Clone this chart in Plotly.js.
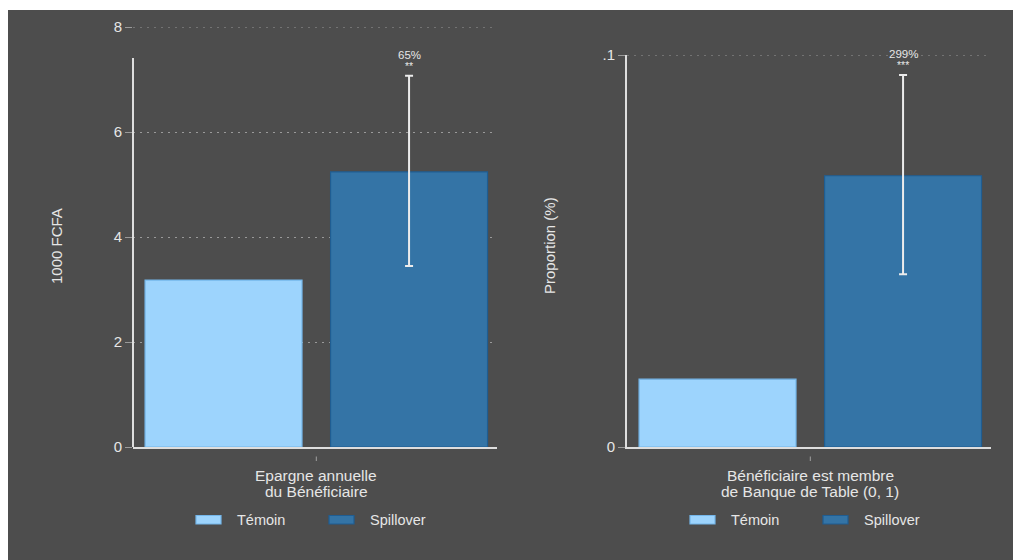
<!DOCTYPE html>
<html>
<head>
<meta charset="utf-8">
<script src="https://cdn.plot.ly/plotly-3.0.1.min.js"></script>
<style>
  html, body { margin: 0; padding: 0; background: #ffffff; }
  #chart { position: absolute; left: 8px; top: 10px; width: 1005px; height: 550px; }
</style>
</head>
<body>
<div id="chart"></div>
<script>
// Groups compared in each panel
const groups = ['Témoin', 'Spillover'];

// Panel 1: annual savings of the beneficiary (1000 FCFA)
const savingsMean = [3.18, 5.24];
const savingsLow = [null, 3.45];
const savingsHigh = [null, 7.07];
const savingsTicks = [0, 2, 4, 6, 8];
const savingsTickText = ['0', '2', '4', '6', '8'];

// Panel 2: share of beneficiaries who are members of a Banque de Table
const memberMean = [0.0173, 0.0692];
const memberLow = [null, 0.0441];
const memberHigh = [null, 0.0949];
const memberTicks = [0, 0.1];
const memberTickText = ['0', '.1'];

// Effect labels printed above the Spillover bar
const effectText = ['65%', '299%'];
const starText = ['**', '***'];

// Axis titles
const yTitles = ['1000 FCFA', 'Proportion (%)'];
const xTitles = [['Epargne annuelle', 'du Bénéficiaire'],
                 ['Bénéficiaire est membre', 'de Banque de Table (0, 1)']];

// Styling
const BG = '#4d4d4d';
const TXT = '#e6e6e6';
const GRID = '#9a9a9a';
const GRID_DASH = '2px,5px';
const AXIS = '#dedede';
const FILL = ['#9dd4fd', '#3474a6'];
const EDGE = ['#74b6ea', '#1f5d92'];
const FONT = '"Liberation Sans", Arial, sans-serif';

// Page geometry (px inside the chart div)
const W = 1005, H = 550;
const M = { l: 125, r: 22, t: 17, b: 113 };
const PW = W - M.l - M.r, PH = H - M.t - M.b;
const px = x => (x - M.l) / PW;
const py = y => (M.t + PH - y) / PH;
const panelLeft = [125, 619];
const panelWidth = 364;

const panels = [
  { mean: savingsMean, low: savingsLow, high: savingsHigh, xa: 'x', ya: 'y',
    top: savingsTicks[savingsTicks.length - 1] },
  { mean: memberMean, low: memberLow, high: memberHigh, xa: 'x2', ya: 'y2',
    top: memberTicks[memberTicks.length - 1] }
];

const traces = [];
panels.forEach(p => {
  groups.forEach((g, i) => {
    const hasCI = p.high[i] !== null;
    traces.push({
      type: 'bar',
      x: [g],
      y: [p.mean[i]],
      width: 0.846,
      xaxis: p.xa,
      yaxis: p.ya,
      showlegend: false,
      marker: { color: FILL[i], line: { color: EDGE[i], width: 1.2 } },
      error_y: hasCI ? {
        type: 'data', symmetric: false,
        array: [p.high[i] - p.mean[i]],
        arrayminus: [p.mean[i] - p.low[i]],
        color: '#ececec', thickness: 2, width: 4
      } : { visible: false },
      hoverinfo: 'skip'
    });
  });
});

const shapes = [];
const annotations = [];

// Left vertical axis line of panel 1 (stops below the top gridline)
shapes.push({
  type: 'line', xref: 'x domain', yref: 'y', x0: 0, x1: 0, y0: 0, y1: 7.41,
  line: { color: AXIS, width: 2 }, layer: 'above'
});

panels.forEach((p, k) => {
  const xa = p.xa;
  // gridline at the top tick (sits on the range edge, so drawn by hand)
  shapes.push({
    type: 'line', xref: xa + ' domain', yref: p.ya, x0: 0, x1: 1,
    y0: p.top, y1: p.top, layer: 'below',
    line: { color: GRID, width: 1, dash: GRID_DASH }
  });
  // small category tick under each panel, detached from the axis
  shapes.push({
    type: 'line', xref: xa, yref: 'paper', x0: 0.5, x1: 0.5,
    y0: py(446.5), y1: py(451), line: { color: '#a0a0a0', width: 1 }
  });
  // two-line x title
  xTitles[k].forEach((line, j) => {
    annotations.push({
      xref: xa, yref: 'paper', x: 0.5, y: py(465 + 16 * j),
      text: line, showarrow: false, xanchor: 'center', yanchor: 'middle',
      font: { family: FONT, size: 15.5, color: TXT }
    });
  });
  // y title
  annotations.push({
    xref: 'paper', yref: 'paper', x: px(k === 0 ? 49 : 542), y: py(236),
    text: yTitles[k], textangle: -90, showarrow: false,
    xanchor: 'center', yanchor: 'middle',
    font: { family: FONT, size: 15, color: TXT }
  });
  // effect size and significance stars above the Spillover CI
  annotations.push({
    xref: xa, yref: p.ya, x: groups[1], y: p.high[1], yshift: 20.5,
    text: effectText[k], showarrow: false, xanchor: 'center', yanchor: 'middle',
    font: { family: FONT, size: 11.5, color: TXT }
  });
  annotations.push({
    xref: xa, yref: p.ya, x: groups[1], y: p.high[1], yshift: 10,
    text: starText[k], showarrow: false, xanchor: 'center', yanchor: 'middle',
    font: { family: FONT, size: 10.5, color: TXT }
  });
  // legend (swatch + label) under each panel
  const swatchX = [[63, 88], [196, 221]];
  const labelX = [102, 235];
  groups.forEach((g, i) => {
    const L = panelLeft[k];
    shapes.push({
      type: 'rect', xref: 'paper', yref: 'paper',
      x0: px(L + swatchX[i][0]), x1: px(L + swatchX[i][1]),
      y0: py(514), y1: py(505.5),
      fillcolor: FILL[i], line: { color: EDGE[i], width: 1.2 }
    });
    annotations.push({
      xref: 'paper', yref: 'paper', x: px(L + labelX[i]), y: py(510),
      text: g, showarrow: false, xanchor: 'left', yanchor: 'middle',
      font: { family: FONT, size: 14.5, color: TXT }
    });
  });
});

const xCommon = {
  type: 'category', range: [-0.488, 1.474], showticklabels: false,
  ticks: '', showgrid: false, zeroline: false,
  showline: true, linecolor: AXIS, linewidth: 1.5, fixedrange: true
};
const yCommon = {
  ticks: 'outside', ticklen: 7, tickwidth: 1, tickcolor: '#9a9a9a',
  tickfont: { family: FONT, size: 15, color: TXT },
  showgrid: true, gridcolor: GRID, gridwidth: 1, griddash: GRID_DASH,
  zeroline: false, fixedrange: true
};

const layout = {
  width: W, height: H,
  margin: M,
  paper_bgcolor: BG, plot_bgcolor: BG,
  barmode: 'overlay',
  showlegend: false,
  xaxis: Object.assign({}, xCommon, { domain: [0, panelWidth / PW], anchor: 'y' }),
  xaxis2: Object.assign({}, xCommon, { domain: [(619 - M.l) / PW, 1], anchor: 'y2' }),
  yaxis: Object.assign({}, yCommon, {
    domain: [0, 1], anchor: 'x', range: [0, 8],
    tickvals: savingsTicks, ticktext: savingsTickText, showline: false
  }),
  yaxis2: Object.assign({}, yCommon, {
    domain: [0, 392 / PH], anchor: 'x2', range: [0, 0.1],
    tickvals: memberTicks, ticktext: memberTickText,
    showline: true, linecolor: AXIS, linewidth: 2
  }),
  shapes: shapes,
  annotations: annotations
};

Plotly.newPlot('chart', traces, layout, { displayModeBar: false, staticPlot: true });
</script>
</body>
</html>
